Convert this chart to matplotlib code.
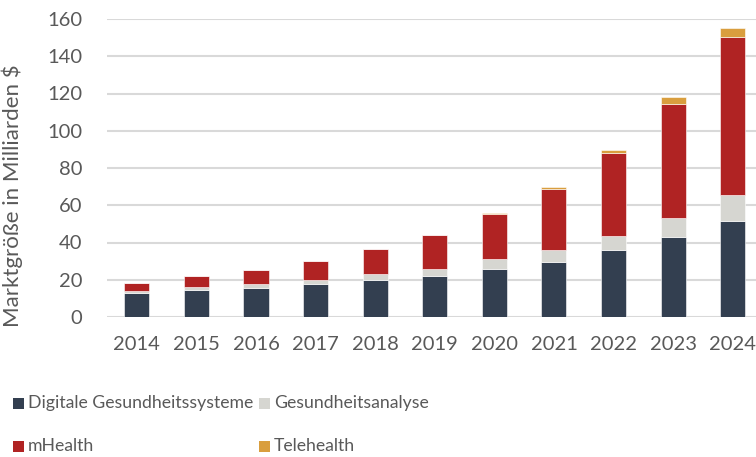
import matplotlib
matplotlib.use("Agg")
import matplotlib.pyplot as plt
import numpy as np
from matplotlib.patches import Rectangle

years = ["2014", "2015", "2016", "2017", "2018", "2019", "2020", "2021", "2022", "2023", "2024"]
digitale = [13.0, 14.7, 15.4, 17.9, 19.7, 22.0, 25.6, 29.7, 35.9, 42.7, 51.5]
analyse = [1.2, 1.3, 2.4, 2.1, 3.2, 3.6, 5.3, 6.1, 7.7, 10.5, 13.9]
mhealth = [4.1, 6.0, 7.4, 10.3, 13.5, 18.2, 24.5, 33.0, 44.2, 61.4, 85.0]
telehealth = [0.0, 0.0, 0.0, 0.0, 0.0, 0.0, 0.2, 1.1, 2.1, 3.3, 4.9]
series_names = ["Digitale Gesundheitssysteme", "Gesundheitsanalyse", "mHealth", "Telehealth"]
yticks = [0, 20, 40, 60, 80, 100, 120, 140, 160]

colors = ["#333f50", "#d6d6d1", "#b02323", "#d99e3e"]
txt = "#595959"
plt.rcParams['font.family'] = ['Lato', 'DejaVu Sans']

W, H = 756, 457
fig = plt.figure(figsize=(W / 100, H / 100), dpi=100)
ax = fig.add_axes([107 / W, 1 - 317 / H, 649 / W, (317 - 19) / H])

x = np.arange(len(years))
bottom = np.zeros(len(years))
for vals, c in zip([digitale, analyse, mhealth, telehealth], colors):
    v = np.array(vals)
    ax.bar(x, v, width=0.42, bottom=bottom, color=c, edgecolor="white", linewidth=0.4, zorder=3)
    bottom += v

ax.set_ylim(0, 160)
ax.set_xlim(-0.5, 10.39)
ax.set_yticks(yticks)
ax.set_xticks(x)
ax.set_xticklabels(years)
ax.grid(axis="y", color="#d9d9d9", linewidth=1.5, zorder=0)
for s in ax.spines.values():
    s.set_visible(False)
ax.tick_params(axis="both", length=0, labelsize=14.5, colors=txt)
ax.tick_params(axis="x", pad=14)
ax.tick_params(axis="y", pad=18)
ax.set_ylabel("Marktgröße in Milliarden $", fontsize=16, color=txt)
ax.yaxis.set_label_coords(-(107 - 23) / 649, (317 - 196) / 298)

# legend, laid out in two rows like the reference
pos = [(13, 403), (259, 403), (13, 446), (259, 446)]
for (px, py), name, c in zip(pos, series_names, colors):
    fig.add_artist(Rectangle((px / W, 1 - (py + 5.5) / H), 11 / W, 11 / H,
                             transform=fig.transFigure, facecolor=c, edgecolor="none"))
    fig.text((px + 15) / W, 1 - py / H, name, fontsize=12.7, color=txt, va="center", ha="left")

fig.savefig("out.png", dpi=100)
